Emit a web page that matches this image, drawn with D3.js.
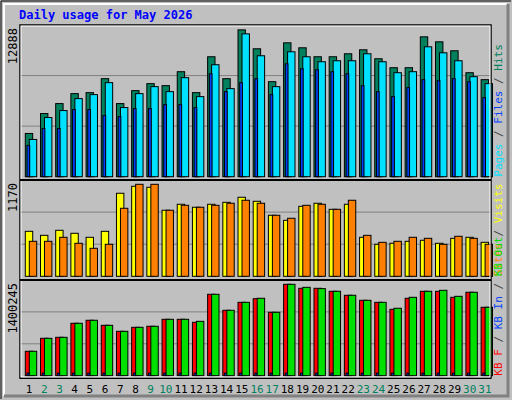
<!DOCTYPE html>
<html>
<head>
<meta charset="utf-8">
<script src="https://cdn.jsdelivr.net/npm/d3@7"></script>
<style>
body { margin: 0; background: #fff; }
svg text { font-family: "DejaVu Sans Mono", monospace; }
</style>
</head>
<body>
<svg id="chart" width="512" height="400"></svg>
<script>
const days = d3.range(1, 32);
const weekends = [2, 3, 9, 10, 16, 17, 23, 24, 30, 31];

const hits = [3780, 5522, 6393, 7264, 7351, 8571, 6393, 7525, 8135, 7961, 9180, 7351, 10487, 8571, 12838, 11184,
	8309, 11706, 11271, 10487, 10487, 10748, 11096, 10313, 9529, 9529, 12229, 11793, 11010, 9093, 8484];
const files = [3257, 5174, 5783, 6829, 7177, 8222, 6045, 7264, 7874, 7438, 8658, 7003, 9790, 7700, 12490, 10574,
	7874, 10922, 10487, 10051, 10138, 10138, 10748, 10051, 9093, 9180, 11358, 10835, 10138, 8745, 8135];
const pages = [2735, 4215, 4215, 5870, 5870, 5348, 5261, 5958, 5958, 6306, 6306, 6045, 9006, 7438, 8222, 8571,
	7177, 9877, 9442, 9354, 9180, 9006, 7961, 7438, 7003, 7787, 8484, 8397, 8571, 8309, 6916];

const visits = [572, 521, 585, 547, 496, 572, 1056, 1145, 1132, 840, 916, 878, 916, 941, 1005, 954,
	776, 712, 890, 929, 852, 916, 496, 407, 420, 445, 458, 420, 483, 496, 432];
const sites = [445, 445, 496, 420, 356, 407, 865, 1170, 1170, 840, 903, 878, 903, 929, 967, 929,
	776, 738, 903, 916, 852, 967, 521, 432, 445, 496, 483, 407, 509, 483, 407];

const kbF = [374, 573, 588, 803, 849, 772, 680, 741, 757, 864, 864, 818, 1247, 1002, 1124, 1180,
	971, 1400, 1339, 1339, 1293, 1232, 1155, 1124, 1017, 1186, 1293, 1293, 1201, 1278, 1048].map(v => v * 1000);
const kbOut = [374, 573, 588, 803, 849, 772, 680, 741, 757, 864, 864, 833, 1247, 1002, 1124, 1186,
	971, 1400, 1354, 1334, 1293, 1232, 1155, 1124, 1033, 1201, 1293, 1308, 1216, 1278, 1048].map(v => v * 1000);
const kbIn = days.map(() => 40000);

const maxHits = 12888, maxVisits = 1170, maxKB = 1400245;

const svg = d3.select('#chart');
const L = 20, R = 491;

// frame
svg.append('rect').attr('x', 0).attr('y', 0).attr('width', 512).attr('height', 400).attr('fill', '#c0c0c0');
svg.append('path').attr('d', 'M1,399 V1 H511').attr('stroke', '#000').attr('fill', 'none');
svg.append('path').attr('d', 'M4,396 V4 H507').attr('stroke', '#fff').attr('stroke-width', 2).attr('fill', 'none');
svg.append('path').attr('d', 'M4,396 H508 V4').attr('stroke', '#808080').attr('stroke-width', 3).attr('fill', 'none');

svg.append('text').attr('x', 19).attr('y', 19).attr('fill', '#0000ff')
	.attr('font-size', 12).attr('font-weight', 'bold').text('Daily usage for May 2026');

const x = d3.scaleBand().domain(days).range([L, R]);
const bw = 7.4;

const panels = [
	{ top: 25, bottom: 176.7, vtop: 29.3, max: maxHits, label: '12888',
		series: [[hits, '#00805c', 5.3, bw], [files, '#00e0ff', 9.3, bw], [pages, '#0040ff', 7, 2.7]],
		legend: [['Pages', '#00e0ff'], [' / ', '#404040'], ['Files', '#0040ff'], [' / ', '#404040'], ['Hits', '#00805c']] },
	{ top: 180, bottom: 276.3, vtop: 184.3, max: maxVisits, label: '1170',
		series: [[visits, '#ffff00', 5.3, bw], [sites, '#ff8000', 9.3, bw]],
		legend: [['Sites', '#ff8000'], [' / ', '#404040'], ['Visits', '#ffff00']] },
	{ top: 280, bottom: 375.7, vtop: 284.3, max: maxKB, label: '1400245',
		series: [[kbF, '#ff0000', 5.3, bw], [kbOut, '#00e000', 9.3, bw], [kbIn, '#0040ff', 7, 2]],
		legend: [['KB F', '#ff0000'], [' / ', '#404040'], ['KB In', '#0040ff'], [' / ', '#404040'], ['KB Out', '#00e000']] }
];

panels.forEach(p => {
	const y = d3.scaleLinear().domain([0, p.max]).range([p.bottom, p.vtop]);
	const g = svg.append('g');
	[1, 2].forEach(k => {
		const gy = p.bottom - (p.bottom - p.top) * k / 3;
		g.append('line').attr('x1', L).attr('x2', R).attr('y1', gy).attr('y2', gy).attr('stroke', '#808080');
	});
	p.series.forEach(([vals, color, off, w]) => {
		g.selectAll(null).data(vals).enter().append('rect')
			.attr('x', (d, i) => x(days[i]) + off)
			.attr('y', d => y(d))
			.attr('width', w)
			.attr('height', d => p.bottom - y(d))
			.attr('fill', color)
			.attr('stroke', '#000')
			.attr('stroke-width', 1);
	});
	svg.append('text').attr('transform', `translate(17,${p.top + 3}) rotate(-90)`)
		.attr('text-anchor', 'end').attr('font-size', 12).attr('fill', '#000').text(p.label);
	const t = svg.append('text').attr('transform', `translate(502,${p.bottom}) rotate(-90)`)
		.attr('font-size', 11);
	p.legend.forEach(([s, c]) => t.append('tspan').attr('fill', c).text(s));
});

// borders
svg.append('rect').attr('x', L).attr('y', 25).attr('width', R - L).attr('height', 353)
	.attr('fill', 'none').attr('stroke', '#000').attr('stroke-width', 1.5);
svg.append('rect').attr('x', L + 1).attr('y', 26).attr('width', R - L - 2).attr('height', 351)
	.attr('fill', 'none').attr('stroke', '#fff').attr('stroke-width', 1);
[180, 280].forEach(sy => svg.append('line').attr('x1', L).attr('x2', R).attr('y1', sy).attr('y2', sy)
	.attr('stroke', '#000').attr('stroke-width', 2));
svg.append('line').attr('x1', L).attr('x2', R).attr('y1', 378.5).attr('y2', 378.5).attr('stroke', '#000');

svg.append('g').selectAll('text').data(days).enter().append('text')
	.attr('x', d => x(d) + x.bandwidth() / 2 + 1.5)
	.attr('y', 393)
	.attr('text-anchor', 'middle')
	.attr('font-size', 11)
	.attr('fill', d => weekends.includes(d) ? '#00805c' : '#000')
	.text(d => d);
</script>
</body>
</html>
